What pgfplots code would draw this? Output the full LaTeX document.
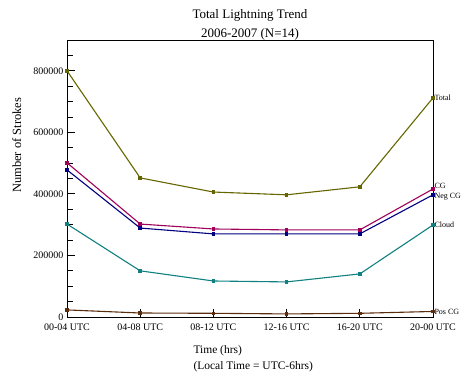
\documentclass[border=0pt]{standalone}
\usepackage{pgfplots}
\pgfplotsset{compat=1.18}
\usepackage{fontspec}
\setmainfont{Liberation Serif}
\definecolor{cTotal}{HTML}{666600}
\definecolor{cCG}{HTML}{A0005A}
\definecolor{cNeg}{HTML}{000080}
\definecolor{cCloud}{HTML}{108080}
\definecolor{cPos}{HTML}{5A2D0E}
\begin{document}
\begin{tikzpicture}[x=1pt,y=1pt]
\path[use as bounding box] (0,0) rectangle (463,375);
\begin{axis}[
  at={(67pt,58pt)}, anchor=south west,
  scale only axis, width=366pt, height=277pt,
  xmin=0, xmax=5, ymin=0, ymax=900000,
  xtick={0,1,2,3,4,5},
  xticklabels={00-04 UTC,04-08 UTC,08-12 UTC,12-16 UTC,16-20 UTC,20-00 UTC},
  ytick={0,200000,400000,600000,800000},
  minor ytick={50000,100000,...,850000},
  scaled y ticks=false,
  yticklabel style={/pgf/number format/fixed,/pgf/number format/1000 sep={}},
  xticklabel style={yshift=-3pt},
  /pgf/number format/assume math mode=true,
  tick label style={font=\fontsize{10}{12}\selectfont},
  tick pos=left,
  tick align=inside,
  major tick length=8pt, minor tick length=6pt,
  every tick/.style={black, line width=0.8pt},
  axis line style={line width=0.8pt},
  title={Total Lightning Trend\\2006-2007 (N=14)},
  title style={align=center, font=\fontsize{13}{19}\selectfont, yshift=-10pt},
  ylabel={Number of Strokes},
  ylabel style={font=\fontsize{12.5}{14}\selectfont, at={(axis description cs:-0.137,0.62)}, anchor=center},
  xlabel={Time (hrs)\\(Local Time = UTC-6hrs)},
  xlabel style={align=left, font=\fontsize{11.5}{16}\selectfont, at={(axis description cs:0.336,0)}, anchor=north west, yshift=-25pt},
  every axis plot/.append style={line width=1.1pt, mark=square*, mark size=1.2pt},
  clip=false,
]
\addplot[color=cTotal] coordinates {(0,800000)(1,452000)(2,406000)(3,397000)(4,423000)(5,712000)}
  node[pos=1, anchor=west, font=\fontsize{8}{9}\selectfont, black, inner sep=1pt] {Total};
\addplot[color=cCG] coordinates {(0,501000)(1,302000)(2,286000)(3,283000)(4,283000)(5,416000)}
  node[pos=1, anchor=west, font=\fontsize{8}{9}\selectfont, black, inner sep=1pt, yshift=3pt] {CG};
\addplot[color=cNeg] coordinates {(0,478000)(1,289000)(2,270000)(3,270000)(4,270000)(5,397000)}
  node[pos=1, anchor=west, font=\fontsize{8}{9}\selectfont, black, inner sep=1pt, yshift=-2pt] {Neg CG};
\addplot[color=cCloud] coordinates {(0,302000)(1,150000)(2,117000)(3,114000)(4,140000)(5,299000)}
  node[pos=1, anchor=west, font=\fontsize{8}{9}\selectfont, black, inner sep=1pt] {Cloud};
\addplot[color=cPos] coordinates {(0,23000)(1,13000)(2,12000)(3,10000)(4,12000)(5,18000)}
  node[pos=1, anchor=west, font=\fontsize{8}{9}\selectfont, black, inner sep=1pt] {Pos CG};
\end{axis}
\end{tikzpicture}
\end{document}
